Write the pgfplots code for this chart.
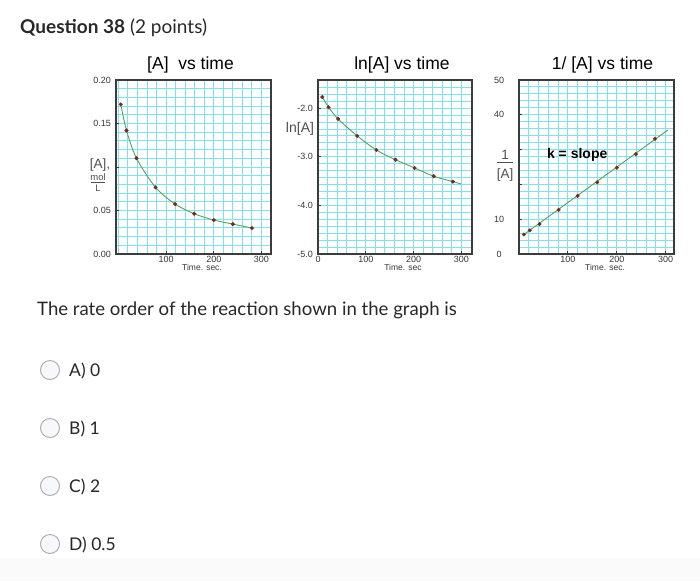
\documentclass[border=0pt]{standalone}
\usepackage{fontspec}
\setmainfont{Liberation Sans}
\newfontfamily\lato{Lato}
\usepackage{pgfplots}
\pgfplotsset{compat=1.18}

\definecolor{gridc}{RGB}{128,226,236}
\definecolor{curve}{RGB}{80,165,95}
\definecolor{dot}{RGB}{125,40,25}
\definecolor{axisc}{RGB}{60,60,60}
\definecolor{txt}{RGB}{40,40,40}
\definecolor{tickc}{RGB}{55,55,55}
\definecolor{lab}{RGB}{80,80,80}
\definecolor{band}{RGB}{250,250,250}
\definecolor{radiofill}{RGB}{246,248,252}
\definecolor{radiodraw}{RGB}{175,175,175}

\pgfplotstableread{
t c
5 0.172
17 0.142
38 0.110
78 0.0765
119 0.0574
159 0.0463
200 0.039
240 0.0344
280 0.0298
}\conc

\pgfplotstableread{
t lnc
9 -1.77
22 -1.98
42 -2.22
82 -2.57
122 -2.86
162 -3.06
202 -3.23
242 -3.40
282 -3.51
}\lnconc

\pgfplotstableread{
t inv
10 5.6
22 6.8
42 8.6
81 12.7
120 16.7
160 20.6
200 24.8
239 28.7
278 33.1
}\invconc

\pgfplotsset{
 panel/.style={
  scale only axis, height=174pt,
  anchor=north west,
  axis line style={axisc, line width=1.1pt},
  grid=both,
  major grid style={gridc, line width=1pt},
  minor grid style={gridc, line width=1pt},
  tick style={axisc, line width=0.9pt},
  major tick length=3pt, minor tick length=0pt,
  tick align=inside, tick pos=left,
  xtick={100,200,300}, xticklabels={100,200,300},
  minor xtick={0,20,...,320},
  ticklabel style={font=\fontsize{9}{9}\selectfont, text=tickc},
  /pgf/number format/assume math mode=true,
  xticklabel style={inner sep=0pt, anchor=north, yshift=-2pt},
  yticklabel style={inner sep=0pt, anchor=east, xshift=-5pt},
  title style={font=\fontsize{17.5}{18}\selectfont, anchor=base, at={(0.5,1)}, yshift=4.5pt, inner sep=0pt},
  every axis x label/.style={at={(axis description cs:0.555,0)}, anchor=north, yshift=-10.5pt, inner sep=0pt, font=\fontsize{8.5}{8.5}\selectfont, text=tickc},
 },
 curveline/.style={curve, line width=0.9pt, no markers},
 dots/.style={only marks, mark=*, mark size=1.8pt, mark options={fill=dot, draw=dot}},
}

\begin{document}
\begin{tikzpicture}
\useasboundingbox (0,0) rectangle (700pt,-581pt);
\fill[white] (0,0) rectangle (700pt,-581pt);
\fill[band] (0,-558pt) rectangle (700pt,-581pt);

% ---------- panel 1
\begin{axis}[panel, at={(116pt,-80pt)}, width=155pt,
  xmin=-5, xmax=320, ymin=0, ymax=0.2,
  ytick={0,0.05,0.1,0.15,0.2}, yticklabels={0.00,0.05,,0.15,0.20},
  minor ytick={0,0.01,...,0.2},
  title={[A]\ \ vs time},
  title style={xshift=-3pt},
  xlabel={Time. sec.}]
\addplot[curveline, smooth] table[x=t,y=c] {\conc};
\addplot[dots] table[x=t,y=c] {\conc};
\end{axis}

% ---------- panel 2
\begin{axis}[panel, at={(318pt,-80pt)}, width=154pt,
  xmin=0, xmax=322, ymin=-5, ymax=-1.42,
  xtick={0,100,200,300}, xticklabels={0,100,200,300},
  ytick={-5,-4,-3,-2}, yticklabels={-5.0,-4.0,-3.0,-2.0},
  minor ytick={-5,-4.857143,...,-1.4},
  title={ln[A] vs time},
  title style={xshift=7pt},
  xlabel={Time. sec},
  every axis x label/.append style={at={(axis description cs:0.552,0)}}]
\addplot[curveline, smooth] coordinates {(9,-1.77) (22,-1.98) (42,-2.22) (82,-2.57) (122,-2.86) (162,-3.06) (202,-3.23) (242,-3.40) (282,-3.51) (299,-3.56)};
\addplot[dots] table[x=t,y=lnc] {\lnconc};
\end{axis}

% ---------- panel 3
\begin{axis}[panel, at={(519pt,-80pt)}, width=155pt,
  xmin=0, xmax=317, ymin=0, ymax=50,
  ytick={0,10,20,30,40,50}, yticklabels={0,10,,,40,50},
  minor ytick={0,2,...,50},
  yticklabel style={anchor=center, xshift=-15pt},
  title={1/ [A] vs time},
  title style={xshift=6pt},
  xlabel={Time. sec.},
  every axis x label/.append style={at={(axis description cs:0.555,0)}}]
\addplot[curveline] coordinates {(8,5.4) (304,35.6)};
\addplot[dots] table[x=t,y=inv] {\invconc};
\node[font=\bfseries\fontsize{14}{14}\selectfont, inner sep=0pt] at (axis cs:119,28.4) {k = slope};
\end{axis}

% ---------- y axis labels
\node[text=lab, font=\fontsize{13.5}{13.5}\selectfont, inner sep=0pt] at (100pt,-165.5pt) {[A],};
\node[text=lab, font=\fontsize{9.5}{9.5}\selectfont, inner sep=0pt, anchor=base] at (98pt,-180.5pt) {mol};
\draw[lab, line width=0.7pt] (91pt,-182.5pt) -- (105pt,-182.5pt);
\node[text=lab, font=\fontsize{9.5}{9.5}\selectfont, inner sep=0pt, anchor=base] at (98pt,-191pt) {L};
\node[text=lab, font=\fontsize{14}{14}\selectfont, inner sep=0pt] at (300pt,-128.5pt) {ln[A]};
\node[text=lab, font=\fontsize{13.5}{13.5}\selectfont, inner sep=0pt, anchor=base] at (505pt,-159.5pt) {1};
\draw[lab, line width=0.7pt] (497pt,-162pt) -- (513pt,-162pt);
\node[text=lab, font=\fontsize{13.5}{13.5}\selectfont, inner sep=0pt, anchor=base] at (505pt,-178pt) {[A]};

% ---------- question text
\node[anchor=base west, inner sep=0pt, text=txt, font=\lato\fontsize{19}{20}\selectfont] at (20pt,-33.3pt)
  {\textbf{Question 38} (2 points)};
\node[anchor=base west, inner sep=0pt, text=txt, font=\lato\fontsize{18.6}{20}\selectfont] at (37pt,-315.5pt)
  {The rate order of the reaction shown in the graph is};

\foreach \yy/\lbl in {370/A) 0, 428/B) 1, 486/C) 2, 544/D) 0.5}{
  \draw[fill=radiofill, draw=radiodraw, line width=1pt] (50pt,-\yy pt) circle (9.5pt);
  \node[anchor=base west, inner sep=0pt, text=txt, font=\lato\fontsize{17.5}{18}\selectfont] at (69pt,-\yy pt-6.5pt) {\lbl};
}
\end{tikzpicture}
\end{document}
